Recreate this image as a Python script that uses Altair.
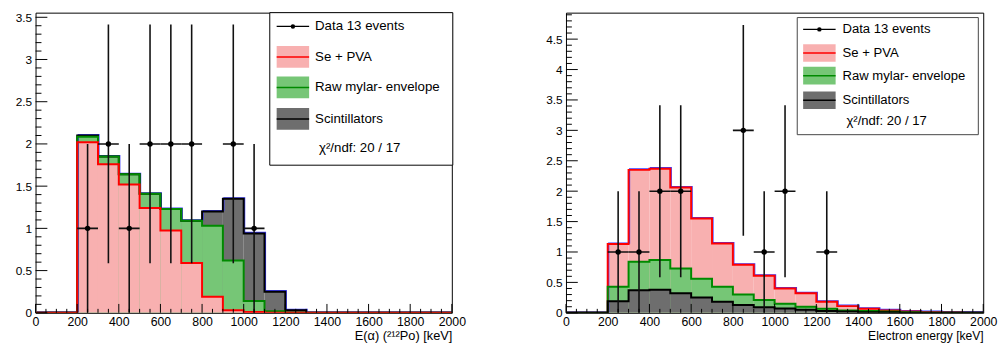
import altair as alt
import pandas as pd
import numpy as np

# ---------------- data ----------------
EDGES = list(range(0, 2100, 100))          # 21 bin edges -> 20 bins of 100 keV

# Left panel: E(alpha), stacked bottom -> top
alpha_se_pva = [0, 0, 2.02, 1.76, 1.52, 1.24, 0.975, 0.59, 0.19, 0.03, 0.01, 0, 0, 0, 0, 0, 0, 0, 0, 0]
alpha_mylar = [0, 0, 0.065, 0.09, 0.12, 0.17, 0.255, 0.50, 0.84, 0.59, 0.13, 0.02, 0, 0, 0, 0, 0, 0, 0, 0]
alpha_scint = [0, 0, 0.015, 0, 0, 0, 0, 0, 0.17, 0.73, 0.80, 0.23, 0.03, 0, 0, 0, 0, 0, 0, 0]
alpha_data_x = [250, 350, 450, 550, 650, 750, 950, 1050]
alpha_data_n = [1, 2, 1, 2, 2, 2, 2, 1]

# Right panel: electron energy, stacked bottom -> top
e_scint = [0, 0, 0.19, 0.37, 0.38, 0.32, 0.25, 0.18, 0.13, 0.09, 0.07, 0.05, 0.03, 0.02, 0.01, 0.01, 0, 0, 0, 0]
e_mylar = [0, 0, 0.24, 0.47, 0.49, 0.41, 0.31, 0.25, 0.17, 0.12, 0.08, 0.05, 0.035, 0.02, 0.02, 0.01, 0.01, 0, 0, 0]
e_se_pva = [0, 0, 0.70, 1.51, 1.50, 1.33, 0.99, 0.71, 0.49, 0.40, 0.25, 0.22, 0.115, 0.07, 0.035, 0.02, 0.01, 0.01, 0.005, 0.003]
e_data_x = [250, 350, 450, 550, 850, 950, 1050, 1250]
e_data_n = [1, 1, 2, 2, 3, 1, 2, 1]

LEGEND_LABELS = ["Data 13 events", "Se + PVA", "Raw mylar- envelope", "Scintillators"]
CHI2_TEXT = "χ²/ndf: 20 / 17"

X_MAJOR = list(range(0, 2200, 200))
X_MINOR = list(range(0, 2050, 50))
Y_MAJOR_L = [0, 0.5, 1, 1.5, 2, 2.5, 3, 3.5]
Y_MAJOR_R = [0, 0.5, 1, 1.5, 2, 2.5, 3, 3.5, 4, 4.5]

# ---------------- style ----------------
FONT = "Liberation Sans"
RED_FILL, GREEN_FILL, GRAY_FILL = "#f8b0b0", "#76c676", "#6e6e6e"
RED_LINE, GREEN_LINE, BLACK_LINE, BLUE_LINE = "#ff0000", "#008a00", "#000000", "#3a3aff"
H = 305

one = pd.DataFrame({"k": [0]})


def panel(comps, fills, lines, dx, dn, ymax, ymajor, width, xtitle, xtitle_size, leg):
    xsc = alt.Scale(domain=[0, 2000], nice=False, zero=False)
    ysc = alt.Scale(domain=[0, ymax], nice=False, zero=False)
    xax = alt.Axis(
        values=X_MAJOR, format="d", ticks=False, domain=False, grid=False, labelPadding=3,
        labelFontSize=12.5, labelFlush=False, labelOverlap=False, labelColor="#000",
        title=xtitle, titleAnchor="end", titleFontSize=xtitle_size, titleFontWeight="normal",
        titlePadding=2, titleColor="#000")
    yax = alt.Axis(
        values=ymajor, ticks=False, domain=False, grid=False, labelPadding=4,
        labelFontSize=12, labelOverlap=False, labelFlush=False, labelColor="#000",
        labelExpr="'' + datum.value", title=None)

    def X(f):
        return alt.X(f, scale=xsc, axis=xax)

    def Y(f):
        return alt.Y(f, scale=ysc, axis=yax)

    cum = np.cumsum(np.array(comps, dtype=float), axis=0)
    layers = []
    lo, hi = EDGES[:-1], EDGES[1:]
    # fills, top cumulative first
    for k in range(len(comps) - 1, -1, -1):
        df = pd.DataFrame({"x": lo, "x2": hi, "y": cum[k]})
        layers.append(alt.Chart(df).mark_rect(color=fills[k], clip=True).encode(
            x=X("x:Q"), x2="x2:Q", y=Y("y:Q"), y2=alt.datum(0)))
    # total outline (blue, slightly offset)
    tot = list(cum[-1]) + [cum[-1][-1]]
    layers.append(alt.Chart(pd.DataFrame({"x": EDGES, "y": tot})).mark_line(
        interpolate="step-after", color=BLUE_LINE, strokeWidth=1.2, xOffset=1, yOffset=-1, clip=True).encode(
        x=X("x:Q"), y=Y("y:Q")))
    for k in range(len(comps) - 1, -1, -1):
        vals = list(cum[k]) + [cum[k][-1]]
        layers.append(alt.Chart(pd.DataFrame({"x": EDGES, "y": vals})).mark_line(
            interpolate="step-after", color=lines[k], strokeWidth=2, clip=True).encode(
            x=X("x:Q"), y=Y("y:Q")))
    # data with sqrt(n) errors
    d = pd.DataFrame({"x": dx, "n": dn})
    d["xl"] = d["x"] - 50
    d["xh"] = d["x"] + 50
    d["yl"] = d["n"] - np.sqrt(d["n"])
    d["yh"] = d["n"] + np.sqrt(d["n"])
    layers.append(alt.Chart(d).mark_rule(color="#111", strokeWidth=1.6, clip=True).encode(
        x=X("xl:Q"), x2="xh:Q", y=Y("n:Q")))
    layers.append(alt.Chart(d).mark_rule(color="#111", strokeWidth=1.6, clip=True).encode(
        x=X("x:Q"), y=Y("yl:Q"), y2="yh:Q"))
    layers.append(alt.Chart(d).mark_point(filled=True, shape="circle", size=30, color="#000", opacity=1).encode(
        x=X("x:Q"), y=Y("n:Q")))
    # inward ticks
    xmin = [v for v in X_MINOR if v % 200 != 0]
    layers.append(alt.Chart(pd.DataFrame({"x": xmin})).mark_rule(color="#000", strokeWidth=1).encode(
        x=X("x:Q"), y=alt.value(H), y2=alt.value(H - 4)))
    layers.append(alt.Chart(pd.DataFrame({"x": X_MAJOR})).mark_rule(color="#000", strokeWidth=1).encode(
        x=X("x:Q"), y=alt.value(H), y2=alt.value(H - 9)))
    yminor = [round(i * 0.1, 1) for i in range(0, int(ymax * 10) + 1)]
    yminor = [v for v in yminor if abs(v * 2 - round(v * 2)) > 1e-9]
    layers.append(alt.Chart(pd.DataFrame({"y": yminor})).mark_rule(color="#000", strokeWidth=1).encode(
        y=Y("y:Q"), x=alt.value(0), x2=alt.value(6)))
    layers.append(alt.Chart(pd.DataFrame({"y": ymajor})).mark_rule(color="#000", strokeWidth=1).encode(
        y=Y("y:Q"), x=alt.value(0), x2=alt.value(12)))
    # legend (manual)
    bx0, bx1, by0, by1 = leg["box"]
    layers.append(alt.Chart(one).mark_rect(fill="white", stroke=leg["stroke"], strokeWidth=1).encode(
        x=alt.value(bx0), x2=alt.value(bx1), y=alt.value(by0), y2=alt.value(by1)))
    sx0, sx1, tx = leg["sx0"], leg["sx1"], leg["tx"]
    ys = leg["ys"]
    sh = leg["sh"]
    layers.append(alt.Chart(one).mark_rule(color="#000", strokeWidth=1.2).encode(
        x=alt.value(sx0), x2=alt.value(sx1), y=alt.value(ys[0])))
    layers.append(alt.Chart(one).mark_point(filled=True, shape="circle", size=20, color="#000", opacity=1).encode(
        x=alt.value((sx0 + sx1) / 2), y=alt.value(ys[0])))
    for i, (f, l) in enumerate(leg["entries"]):
        yc = ys[i + 1]
        layers.append(alt.Chart(one).mark_rect(fill=f).encode(
            x=alt.value(sx0), x2=alt.value(sx1), y=alt.value(yc - sh / 2), y2=alt.value(yc + sh / 2)))
        layers.append(alt.Chart(one).mark_rule(color=l, strokeWidth=1.5).encode(
            x=alt.value(sx0), x2=alt.value(sx1), y=alt.value(yc)))
    for i, lab in enumerate(LEGEND_LABELS):
        layers.append(alt.Chart(one).mark_text(align="left", baseline="middle", fontSize=leg["fs"],
                                               font=FONT, color="#000", text=lab).encode(
            x=alt.value(tx), y=alt.value(ys[i])))
    layers.append(alt.Chart(one).mark_text(align="left", baseline="middle", fontSize=leg["fs"],
                                           font=FONT, color="#000", text=CHI2_TEXT).encode(
        x=alt.value(leg["cx"]), y=alt.value(ys[4])))
    return alt.layer(*layers).properties(width=width, height=H)


left = panel(
    [alpha_se_pva, alpha_mylar, alpha_scint],
    [RED_FILL, GREEN_FILL, GRAY_FILL], [RED_LINE, GREEN_LINE, BLACK_LINE],
    alpha_data_x, alpha_data_n, (313 - 8) / 85.8, Y_MAJOR_L, 423,
    "E(α) (²¹²Po) [keV]", 13,
    dict(box=(238, 424, 0, 155), stroke="#000", sx0=245, sx1=278, tx=284, cx=288,
         ys=[14, 45, 76, 108, 138], sh=22, fs=13.5,
         entries=[(RED_FILL, RED_LINE), (GREEN_FILL, GREEN_LINE), (GRAY_FILL, BLACK_LINE)]))

right = panel(
    [e_scint, e_mylar, e_se_pva],
    [GRAY_FILL, GREEN_FILL, RED_FILL], [BLACK_LINE, GREEN_LINE, RED_LINE],
    e_data_x, e_data_n, (313 - 8) / 61.8, Y_MAJOR_R, 424,
    "Electron energy [keV]", 12.3,
    dict(box=(235, 419, 5, 124), stroke="#444", sx0=241, sx1=274, tx=281, cx=285,
         ys=[17, 41, 64, 89, 110], sh=18, fs=13.3,
         entries=[(RED_FILL, RED_LINE), (GREEN_FILL, GREEN_LINE), (GRAY_FILL, BLACK_LINE)]))

chart = alt.hconcat(left, right, spacing=116, bounds="flush").properties(
    padding={"left": 6, "top": 0, "right": 0, "bottom": 0}
).configure(font=FONT).configure_view(stroke="#000", strokeWidth=1).configure_axis(
    labelFont=FONT, titleFont=FONT)

chart.save("out.html", embed_options={"renderer": "svg", "actions": False})
